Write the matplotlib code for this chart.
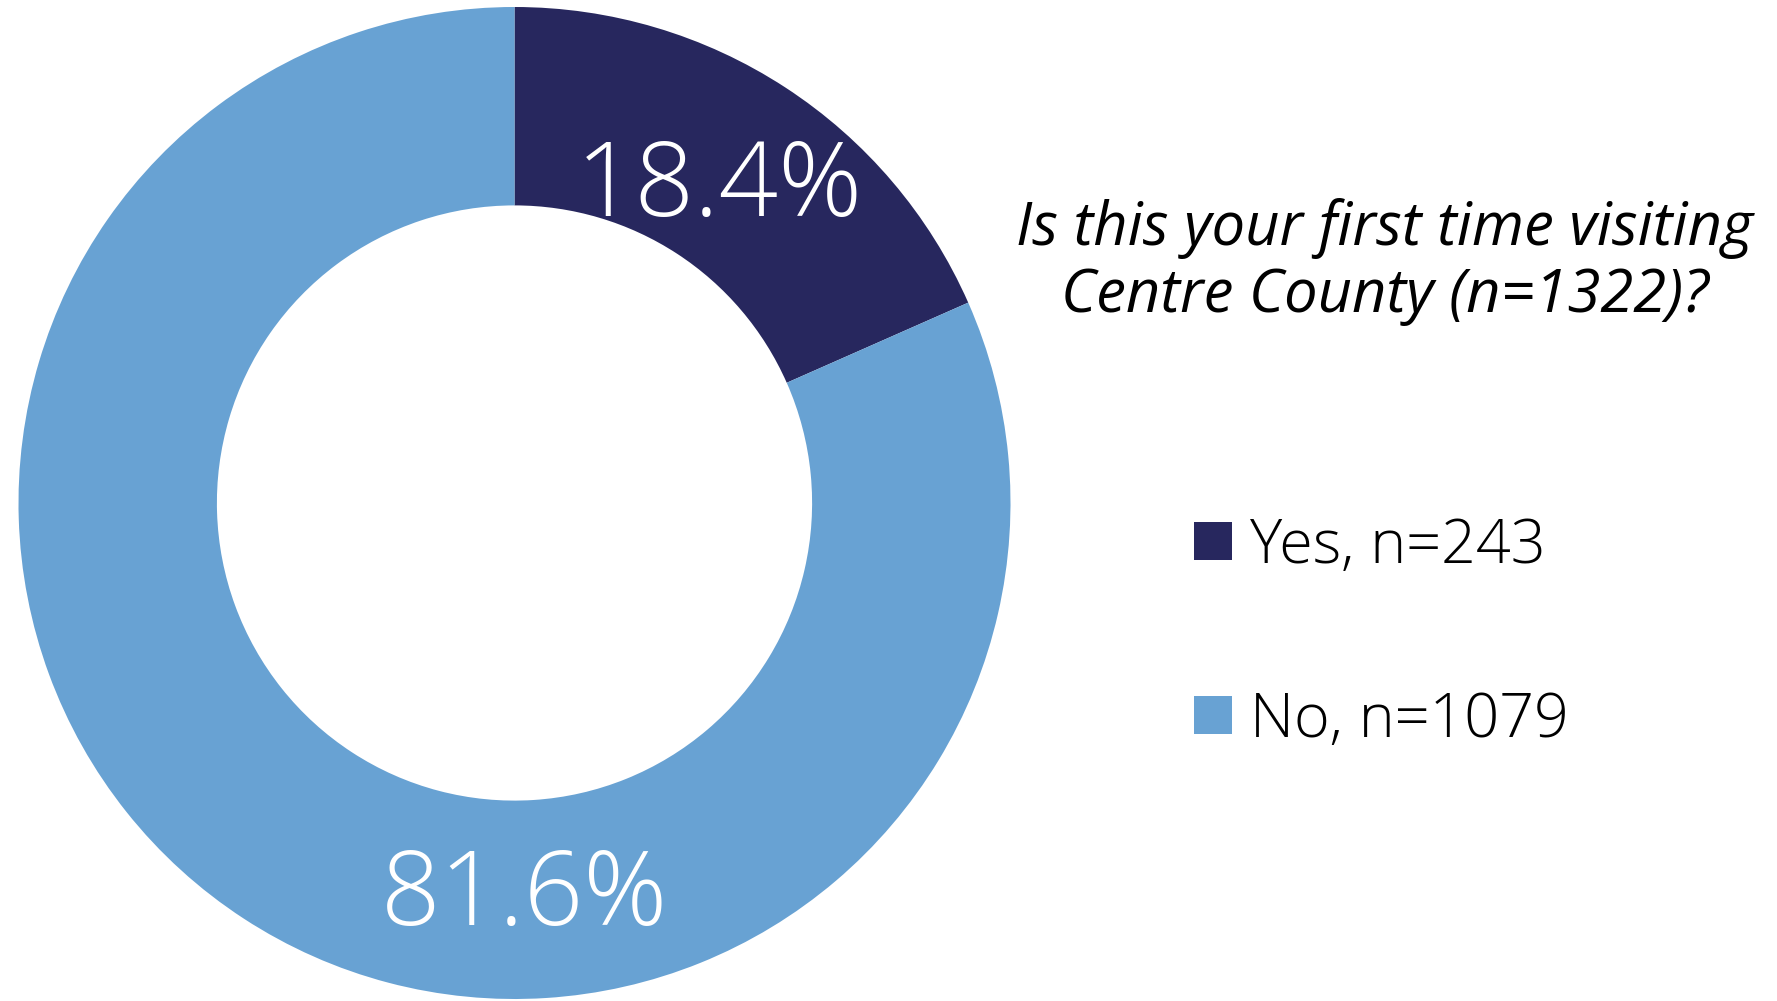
import numpy as np
import matplotlib
matplotlib.use("Agg")
import matplotlib.pyplot as plt

# Survey responses
categories = ["Yes", "No"]
counts = [243, 1079]
total_n = 1322
colors = ["#27275E", "#68A2D3"]
title = f"Is this your first time visiting\nCentre County (n={total_n})?"

W, H, DPI = 1777, 1001, 100
fig = plt.figure(figsize=(W / DPI, H / DPI), dpi=DPI)
fig.patch.set_facecolor("white")

# Donut axes: centre at (514, 503) px from top-left, outer radius ~496 px
R_PX = 496
cx, cy = 514.5, H - 503
ax = fig.add_axes([(cx - R_PX) / W, (cy - R_PX) / H, 2 * R_PX / W, 2 * R_PX / H])

wedges, _ = ax.pie(counts, colors=colors, startangle=90, counterclock=False,
                   radius=1.0, wedgeprops=dict(width=0.4, linewidth=0))
ax.set_xlim(-1, 1)
ax.set_ylim(-1, 1)
ax.set_aspect("equal")
ax.axis("off")

pcts = [100 * c / sum(counts) for c in counts]
font = "Open Sans"

# Percent labels inside the ring
w0 = wedges[0]
mid0 = np.deg2rad((w0.theta1 + w0.theta2) / 2)
label_pos = [(0.755 * np.cos(mid0), 0.755 * np.sin(mid0)),
             (0.02, -0.797)]
for (x, y), p in zip(label_pos, pcts):
    ax.text(x, y, f"{p:.1f}%", color="white", fontsize=75, fontfamily=font,
            fontweight="light", ha="center", va="center")

# Question text
fig.text(1385 / W, 1 - 262 / H, title, ha="center", va="center",
         fontsize=43, fontfamily=font, fontstyle="italic", fontweight="normal",
         linespacing=1.15, color="black")

# Legend
sq = 38
leg_y = [541, 715]
for lab, n, col, yc in zip(categories, counts, colors, leg_y):
    fig.patches.append(plt.Rectangle((1194 / W, (H - yc - sq / 2) / H), sq / W, sq / H,
                                     transform=fig.transFigure, facecolor=col,
                                     edgecolor="none"))
    fig.text(1250 / W, 1 - (yc + 6) / H, f"{lab}, n={n}", ha="left", va="center",
             fontsize=44, fontfamily=font, fontweight="light", color="black")

fig.savefig("out.png", dpi=DPI, facecolor="white")
